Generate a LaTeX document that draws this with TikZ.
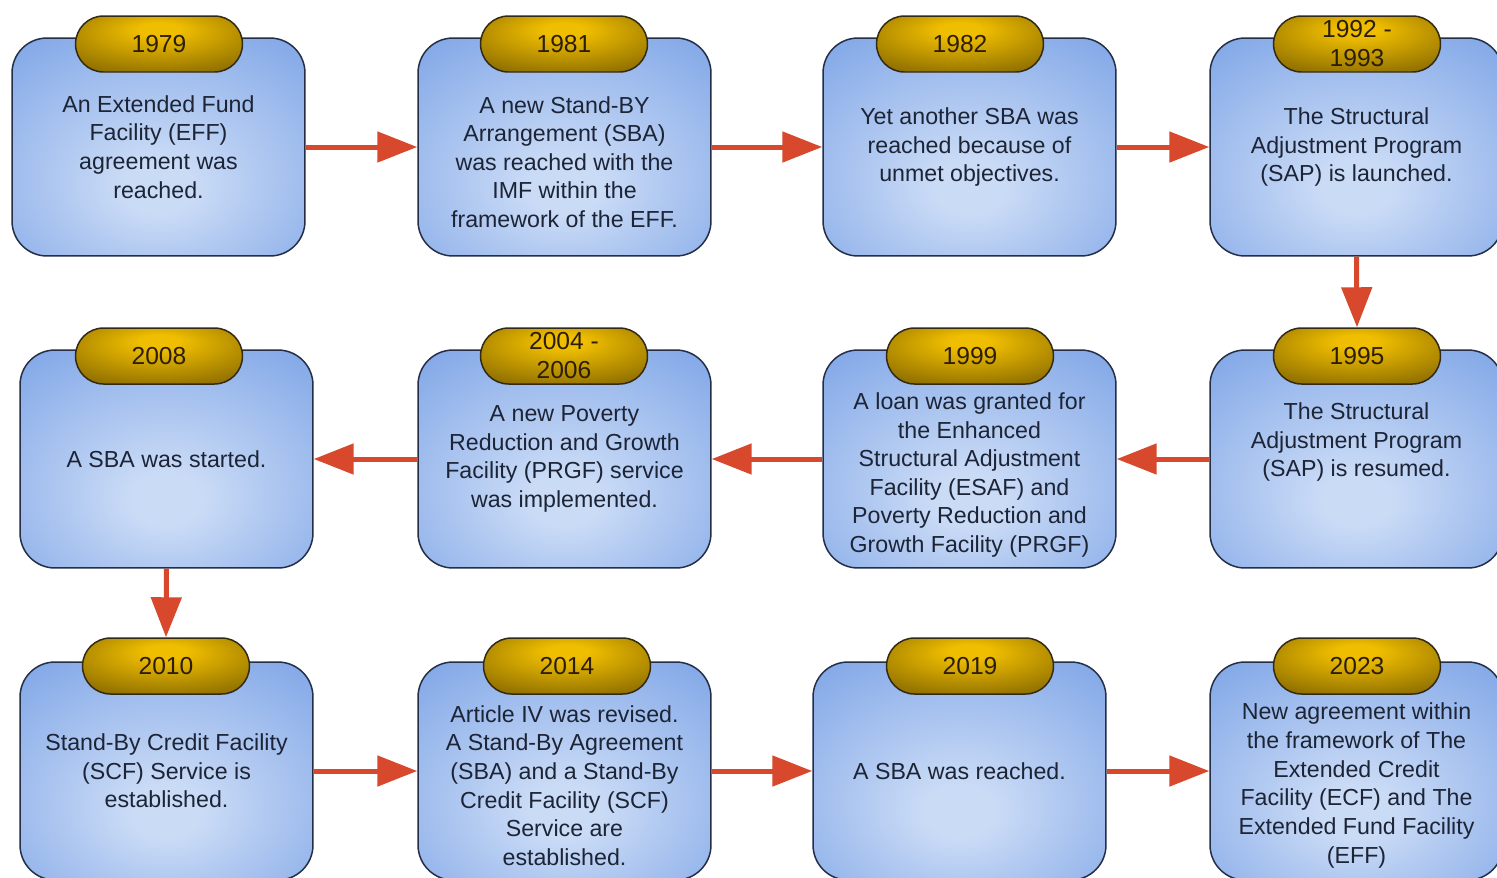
\documentclass[tikz,border=0pt]{standalone}
\usepackage{fontspec}
\setmainfont{Liberation Sans}
\usetikzlibrary{arrows.meta,shapes.misc}

\definecolor{boxlight}{RGB}{202,219,246}
\definecolor{boxdark}{RGB}{94,142,224}
\definecolor{boxline}{RGB}{36,46,70}
\definecolor{goldlight}{RGB}{240,190,0}
\definecolor{golddark}{RGB}{112,86,0}
\definecolor{goldline}{RGB}{50,42,22}
\definecolor{arrowred}{RGB}{216,72,44}
\definecolor{txtcol}{RGB}{28,36,54}
\definecolor{yearcol}{RGB}{44,30,6}

\pgfdeclareradialshading{boxglow}{\pgfpoint{0bp}{-10bp}}{color(0bp)=(boxlight); color(6bp)=(boxlight); color(54bp)=(boxdark); color(80bp)=(boxdark)}
\pgfdeclareradialshading{goldglow}{\pgfpoint{0bp}{14bp}}{color(0bp)=(goldlight); color(6bp)=(goldlight); color(46bp)=(golddark); color(80bp)=(golddark)}

\tikzset{
    event/.style={rectangle, rounded corners=0.7cm, draw=boxline, line width=0.85pt,
        shade, shading=boxglow, minimum width=5.86cm, minimum height=4.36cm},
    year/.style={rounded rectangle, draw=goldline, line width=0.85pt, shade, shading=goldglow,
        minimum width=3.48cm, minimum height=1.12cm, inner ysep=0pt, inner xsep=2pt,
        align=center, text=yearcol, font=\fontsize{14}{16.5}\selectfont},
    blurb/.style={align=center, text=txtcol, font=\fontsize{13.2}{16.3}\selectfont},
    flow/.style={draw=arrowred, line width=0.1cm, -{Triangle[length=0.8cm,width=0.6cm]}}
}

\begin{document}
\begin{tikzpicture}[x=0.02cm, y=-0.02cm]
    \useasboundingbox (0,0) rectangle (1497,877);
    \fill[white] (0,0) rectangle (1497,877);

    % First row (left to right)
    \node[event] (b1) at (158.5,147) {};
    \node[event] (b2) at (564.5,147) {};
    \node[event] (b3) at (969.5,147) {};
    \node[event] (b4) at (1356.5,147) {};
    \node[year] (y1) at (159,44) {1979};
    \node[year] (y2) at (564,44) {1981};
    \node[year] (y3) at (960,44) {1982};
    \node[year] (y4) at (1357,44) {1992 -\\1993};
    \node[blurb] (t1) at (b1) {An Extended Fund\\Facility (EFF)\\agreement was\\reached.};
    \node[blurb, yshift=-0.3cm] (t2) at (b2) {A new Stand-BY\\Arrangement (SBA)\\was reached with the\\IMF within the\\framework of the EFF.};
    \node[blurb] (t3) at (b3) {Yet another SBA was\\reached because of\\unmet objectives.};
    \node[blurb] (t4) at (b4) {The Structural\\Adjustment Program\\(SAP) is launched.};

    % Second row (right to left)
    \node[event] (b5) at (166.5,459) {};
    \node[event] (b6) at (564.5,459) {};
    \node[event] (b7) at (969.5,459) {};
    \node[event] (b8) at (1356.5,459) {};
    \node[year] (y5) at (159,356) {2008};
    \node[year] (y6) at (564,356) {2004 -\\2006};
    \node[year] (y7) at (970,356) {1999};
    \node[year] (y8) at (1357,356) {1995};
    \node[blurb] (t5) at (b5) {A SBA was started.};
    \node[blurb] (t6) at (b6) {A new Poverty\\Reduction and Growth\\Facility (PRGF) service\\was implemented.};
    \node[blurb, yshift=-0.32cm] (t7) at (b7) {A loan was granted for\\the Enhanced\\Structural Adjustment\\Facility (ESAF) and\\Poverty Reduction and\\Growth Facility (PRGF)};
    \node[blurb, yshift=0.34cm] (t8) at (b8) {The Structural\\Adjustment Program\\(SAP) is resumed.};

    % Third row (left to right)
    \node[event] (b9) at (166.5,771) {};
    \node[event] (b10) at (564.5,771) {};
    \node[event] (b11) at (959.5,771) {};
    \node[event] (b12) at (1356.5,771) {};
    \node[year] (y9) at (166,666) {2010};
    \node[year] (y10) at (567,666) {2014};
    \node[year] (y11) at (970,666) {2019};
    \node[year] (y12) at (1357,666) {2023};
    \node[blurb] (t9) at (b9) {Stand-By Credit Facility\\(SCF) Service is\\established.};
    \node[blurb, yshift=-0.29cm] (t10) at (b10) {Article IV was revised.\\A Stand-By Agreement\\(SBA) and a Stand-By\\Credit Facility (SCF)\\Service are\\established.};
    \node[blurb] (t11) at (b11) {A SBA was reached.};
    \node[blurb, yshift=-0.29cm] (t12) at (b12) {New agreement within\\the framework of The\\Extended Credit\\Facility (ECF) and The\\Extended Fund Facility\\(EFF)};

    % Connectors
    \foreach \a/\b in {b1/b2, b2/b3, b3/b4, b8/b7, b7/b6, b6/b5, b9/b10, b10/b11, b11/b12} {
        \draw[flow] (\a) -- (\b);
    }
    \draw[flow] (b4.south) -- (y8.north);
    \draw[flow] (b5.south) -- (y9.north);
\end{tikzpicture}
\end{document}
